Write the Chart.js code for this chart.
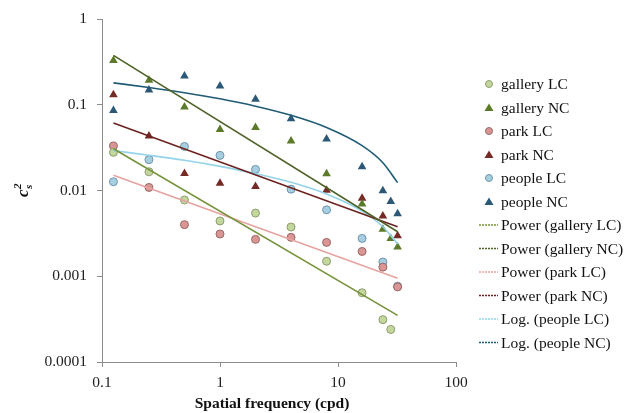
<!DOCTYPE html>
<html>
<head>
<meta charset="utf-8">
<script src="https://cdn.jsdelivr.net/npm/chart.js@4/dist/chart.umd.min.js"></script>
<style>
  html, body { margin: 0; padding: 0; background: #fff; }
  #wrap { width: 640px; height: 413px; }
</style>
</head>
<body>
<div id="wrap"><canvas id="chart" width="640" height="413"></canvas></div>
<script>
// spatial frequencies (cpd)
const freqAll = [0.125, 0.25, 0.5, 1, 2, 4, 8, 16, 24, 32];
const freqGalleryLC = [0.125, 0.25, 0.5, 1, 2, 4, 8, 16, 24, 28];
const freqGalleryNC = [0.125, 0.25, 0.5, 1, 2, 4, 8, 16, 24, 28, 32];
const freqParkNC = [0.125, 0.25, 0.5, 1, 2, 8, 16, 24, 32];
const freqPeopleNC = [0.125, 0.25, 0.5, 1, 2, 4, 8, 16, 24, 28, 32];
const freqTrendEnds = [0.125, 32];

// c_s^2 values
const galleryLC = [0.0280, 0.0166, 0.00778, 0.00443, 0.00547, 0.00376, 0.00150, 0.000643, 0.000312, 0.000240];
const galleryNC = [0.330, 0.194, 0.0944, 0.0518, 0.0546, 0.0380, 0.0157, 0.0070, 0.00354, 0.00277, 0.00220];
const parkLC = [0.0333, 0.0109, 0.00401, 0.00312, 0.00270, 0.00285, 0.00249, 0.00195, 0.00128, 0.000753];
const parkNC = [0.132, 0.0434, 0.0159, 0.0122, 0.0112, 0.0101, 0.00813, 0.00505, 0.00298];
const peopleLC = [0.0127, 0.0230, 0.0328, 0.0258, 0.0177, 0.0104, 0.00597, 0.00277, 0.00147, 0.000767];
const peopleNC = [0.0862, 0.150, 0.218, 0.167, 0.117, 0.0692, 0.0401, 0.0190, 0.00997, 0.00746, 0.00537];

// trendlines as drawn in the figure
const powerGalleryLC = [0.0308, 0.000350];
const powerGalleryNC = [0.379, 0.00331];
const powerParkLC = [0.0151, 0.000948];
const powerParkNC = [0.0618, 0.00378];
const logPeopleLC = [0.0293, 0.0259, 0.0226, 0.0192, 0.0158, 0.0125, 0.00912, 0.00576, 0.00379, 0.00239];
const logPeopleNC = [0.181, 0.160, 0.139, 0.118, 0.0967, 0.0757, 0.0546, 0.0335, 0.0212, 0.0124];

const xTicks = [0.1, 1, 10, 100];
const yTicks = [0.0001, 0.001, 0.01, 0.1, 1];

const serif = "'Liberation Serif', 'DejaVu Serif', serif";

function pts(xs, ys) {
    return ys.map((y, i) => ({ x: xs[i], y: y }));
}

function markers(label, xs, ys, style, fill, border) {
    return {
        type: 'scatter',
        label: label,
        data: pts(xs, ys),
        pointStyle: style,
        pointRadius: style === 'triangle' ? 5 : 4,
        pointHoverRadius: style === 'triangle' ? 5 : 4,
        backgroundColor: fill,
        borderColor: border,
        pointBorderWidth: style === 'triangle' ? 0 : 1,
        showLine: false,
        order: 2
    };
}

function trend(label, xs, ys, color, curved) {
    return {
        type: 'line',
        label: label,
        data: pts(xs, ys),
        borderColor: color,
        backgroundColor: color,
        borderWidth: 1.6,
        pointRadius: 0,
        pointHoverRadius: 0,
        showLine: true,
        fill: false,
        tension: curved ? 0.4 : 0,
        cubicInterpolationMode: curved ? 'monotone' : 'default',
        isTrend: true,
        order: 1
    };
}

const datasets = [
    markers('gallery LC', freqGalleryLC, galleryLC, 'circle', '#c3d69b', '#8e9c72'),
    markers('gallery NC', freqGalleryNC, galleryNC, 'triangle', '#5d7a2a', '#5d7a2a'),
    markers('park LC', freqAll, parkLC, 'circle', '#d99694', '#9a6866'),
    markers('park NC', freqParkNC, parkNC, 'triangle', '#752a26', '#752a26'),
    markers('people LC', freqAll, peopleLC, 'circle', '#a7cfe2', '#6f94a8'),
    markers('people NC', freqPeopleNC, peopleNC, 'triangle', '#2c5877', '#2c5877'),
    trend('Power (gallery LC)', freqTrendEnds, powerGalleryLC, '#77933c', false),
    trend('Power (gallery NC)', freqTrendEnds, powerGalleryNC, '#4f6228', false),
    trend('Power (park LC)', freqTrendEnds, powerParkLC, '#e6a3a1', false),
    trend('Power (park NC)', freqTrendEnds, powerParkNC, '#6b2321', false),
    trend('Log. (people LC)', freqAll, logPeopleLC, '#93d3ea', true),
    trend('Log. (people NC)', freqAll, logPeopleNC, '#1f5b75', true)
];

// legend, axis titles drawn onto the canvas
const extras = {
    id: 'extras',
    afterDraw(chart) {
        const ctx = chart.ctx;
        ctx.save();
        ctx.font = '15.5px ' + serif;
        ctx.textBaseline = 'middle';
        ctx.textAlign = 'left';
        chart.data.datasets.forEach((ds, i) => {
            const y = 84 + i * 23.5;
            if (ds.isTrend) {
                ctx.strokeStyle = ds.borderColor;
                ctx.lineWidth = 1.5;
                ctx.setLineDash([2, 1]);
                ctx.beginPath();
                ctx.moveTo(479, y);
                ctx.lineTo(498, y);
                ctx.stroke();
                ctx.setLineDash([]);
            } else {
                ctx.fillStyle = ds.backgroundColor;
                ctx.strokeStyle = ds.borderColor;
                ctx.lineWidth = 1;
                ctx.beginPath();
                if (ds.pointStyle === 'circle') {
                    ctx.arc(489, y, 3.5, 0, Math.PI * 2);
                    ctx.fill();
                    ctx.stroke();
                } else {
                    ctx.moveTo(489, y - 4);
                    ctx.lineTo(493.5, y + 3.5);
                    ctx.lineTo(484.5, y + 3.5);
                    ctx.closePath();
                    ctx.fill();
                }
            }
            ctx.fillStyle = '#111';
            ctx.fillText(ds.label, 501, y + 1);
        });

        // x title, sitting a little left of the plot centre as in the source
        ctx.font = 'bold 15.5px ' + serif;
        ctx.textAlign = 'center';
        ctx.fillText('Spatial frequency (cpd)', 272, 404);

        // c_s^2
        ctx.translate(28, 197);
        ctx.rotate(-Math.PI / 2);
        ctx.textAlign = 'left';
        ctx.textBaseline = 'alphabetic';
        ctx.font = 'italic bold 17px ' + serif;
        ctx.fillText('c', 0, 0);
        ctx.font = 'italic bold 11px ' + serif;
        ctx.fillText('s', 8, 4);
        ctx.fillText('2', 8, -7);
        ctx.restore();
    }
};

new Chart(document.getElementById('chart'), {
    data: { datasets: datasets },
    options: {
        responsive: false,
        animation: false,
        devicePixelRatio: 1,
        layout: { padding: { left: 0, top: 14, right: 184, bottom: 0 } },
        plugins: {
            legend: { display: false },
            tooltip: { enabled: false }
        },
        scales: {
            x: {
                type: 'logarithmic',
                position: 'bottom',
                min: 0.1,
                max: 100,
                afterBuildTicks: scale => { scale.ticks = xTicks.map(v => ({ value: v })); },
                afterFit: scale => { scale.height = 51; },
                ticks: {
                    callback: v => String(v),
                    font: { family: serif, size: 15.5 },
                    color: '#222',
                    padding: 7,
                    maxRotation: 0
                },
                grid: { drawOnChartArea: false, tickLength: 5, color: '#8c8c8c' },
                border: { color: '#8c8c8c' }
            },
            y: {
                type: 'logarithmic',
                min: 0.0001,
                max: 1,
                afterBuildTicks: scale => { scale.ticks = yTicks.map(v => ({ value: v })); },
                afterFit: scale => { scale.width = 102; },
                ticks: {
                    callback: v => String(v),
                    font: { family: serif, size: 15.5 },
                    color: '#222',
                    padding: 10
                },
                grid: { drawOnChartArea: false, tickLength: 5, color: '#8c8c8c' },
                border: { color: '#8c8c8c' }
            }
        }
    },
    plugins: [extras]
});
</script>
</body>
</html>
